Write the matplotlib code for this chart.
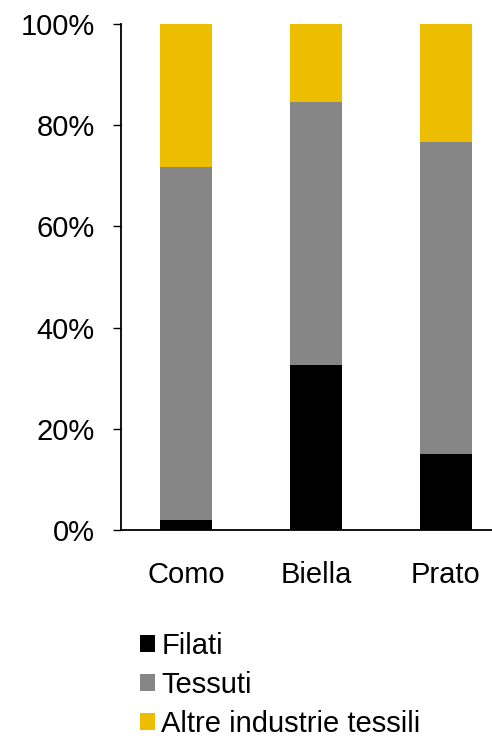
import matplotlib.pyplot as plt
from matplotlib.patches import Patch
from matplotlib.ticker import PercentFormatter

plt.rcParams['font.family'] = ['Liberation Sans', 'DejaVu Sans']

districts = ['Como', 'Biella', 'Prato']
filati = [1.9, 32.7, 15.0]
tessuti = [69.9, 51.8, 61.7]
altre = [28.2, 15.5, 23.3]
series_names = ['Filati', 'Tessuti', 'Altre industrie tessili']
colors = ['#000000', '#868686', '#EDBD00']


def draw():
    fig = plt.figure(figsize=(4.92, 7.39), dpi=100)
    ax = fig.add_axes([121 / 492, 1 - 530 / 739, 1 - 121 / 492, 506 / 739])
    x = range(len(districts))
    bottom = [0] * len(districts)
    for vals, color in zip([filati, tessuti, altre], colors):
        ax.bar(x, vals, width=0.4, bottom=bottom, color=color)
        bottom = [b + v for b, v in zip(bottom, vals)]

    ax.set_ylim(0, 100)
    ax.set_xlim(-0.5, 2.354)
    ax.set_yticks(range(0, 101, 20))
    ax.yaxis.set_major_formatter(PercentFormatter(decimals=0))
    ax.set_xticks(list(x))
    ax.set_xticklabels(districts)
    ax.tick_params(axis='x', length=0, pad=22, labelsize=21)
    ax.tick_params(axis='y', length=6, width=1, pad=13, labelsize=21)
    for s in ['top', 'right']:
        ax.spines[s].set_visible(False)
    for s in ['left', 'bottom']:
        ax.spines[s].set_linewidth(1.3)

    handles = [Patch(facecolor=c, edgecolor='none') for c in colors]
    fig.legend(handles, series_names, loc='upper left',
               bbox_to_anchor=(140 / 492, 1 - 632 / 739), frameon=False,
               fontsize=21, handlelength=0.53, handleheight=0.53,
               handletextpad=0.2, labelspacing=0.38, borderpad=0,
               borderaxespad=0)
    fig.savefig('out.png', dpi=100)


if __name__ == '__main__':
    draw()
